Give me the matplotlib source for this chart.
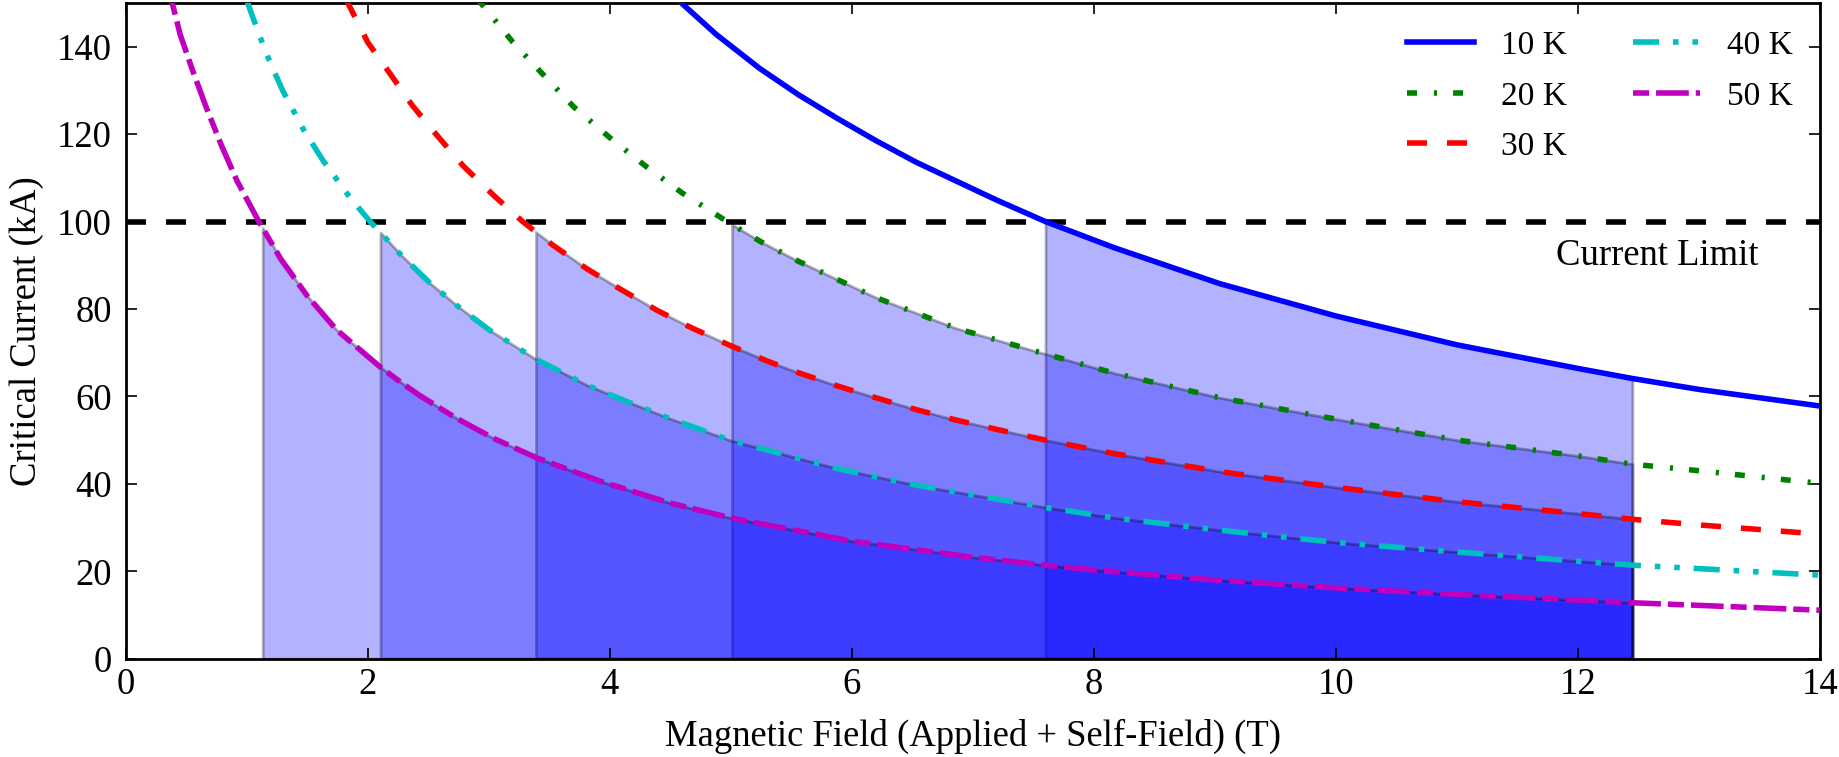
import matplotlib
matplotlib.use("Agg")
import matplotlib.pyplot as plt
import numpy as np

plt.rcParams['font.family'] = ['Liberation Serif', 'DejaVu Serif']
plt.rcParams['font.size'] = 13.2
plt.rcParams['mathtext.fontset'] = 'stix'

# ---------------- data ----------------
temps = ["10 K", "20 K", "30 K", "40 K", "50 K"]

B_10K = [4.45, 4.6, 4.88, 5.24, 5.56, 5.88, 6.2, 6.53, 7.19, 7.6, 8.17, 9.04,
         10.0, 11.0, 12.0, 12.45, 13.0, 14.0]
I_10K = [153.8, 149.8, 142.8, 135.0, 129.0, 123.6, 118.5, 113.6, 105.0, 100.0,
         94.0, 85.8, 78.4, 71.8, 66.4, 64.1, 61.6, 57.8]

B_20K = [2.85, 3.0, 3.2, 3.44, 3.7, 4.0, 4.3, 4.6, 5.01, 5.26, 5.56, 6.2, 6.86,
         7.6, 8.17, 9.04, 10.0, 11.0, 12.0, 12.45, 13.0, 14.0]
I_20K = [152.8, 147.8, 141.0, 133.9, 126.3, 119.2, 112.6, 106.5, 99.3, 95.2,
         90.9, 82.6, 75.6, 69.7, 65.3, 59.7, 54.8, 50.0, 46.4, 44.5, 43.0, 40.1]

B_30K = [1.78, 1.9, 2.0, 2.18, 2.37, 2.57, 2.79, 3.04, 3.28, 3.39, 3.53, 3.81,
         4.09, 4.39, 4.66, 4.99, 5.30, 5.55, 5.88, 6.21, 6.53, 6.86, 7.19, 7.6,
         8.17, 9.04, 10.0, 11.0, 12.0, 12.45, 13.0, 14.0]
I_30K = [153.0, 146.5, 141.0, 134.0, 126.5, 119.8, 112.7, 106.0, 100.0, 97.6,
         94.6, 89.2, 84.5, 79.7, 75.9, 71.7, 68.1, 65.5, 62.4, 59.6, 57.0, 54.6,
         52.5, 50.0, 46.9, 42.8, 39.2, 35.9, 33.2, 31.9, 30.6, 28.5]

B_40K = [1.0, 1.04, 1.165, 1.30, 1.47, 1.63, 1.85, 2.02, 2.105, 2.27, 2.515,
         2.74, 3.01, 3.39, 3.81, 4.09, 4.5, 5.0, 5.88, 6.53, 7.6, 8.17, 9.04,
         10.0, 11.0, 12.0, 12.45, 13.0, 14.0]
I_40K = [150.7, 147.5, 138.2, 129.8, 121.0, 114.0, 105.6, 100.0, 97.5, 92.5,
         85.9, 80.7, 75.1, 68.5, 62.6, 59.4, 54.9, 49.9, 43.5, 39.7, 34.6, 32.2,
         29.4, 26.6, 24.4, 22.3, 21.4, 20.6, 19.1]

B_50K = [0.36, 0.38, 0.45, 0.56, 0.67, 0.79, 0.92, 1.10, 1.132, 1.28, 1.50,
         1.74, 2.10, 2.27, 2.43, 2.72, 3.04, 3.40, 3.92, 4.5, 5.0, 6.0, 7.0,
         7.6, 8.0, 9.0, 10.0, 11.0, 12.0, 12.45, 13.0, 14.0]
I_50K = [153.0, 150.5, 142.8, 134.0, 125.8, 117.5, 109.3, 100.0, 98.5, 91.5,
         83.0, 75.3, 66.8, 63.3, 60.2, 55.2, 50.4, 45.9, 40.6, 35.6, 32.2, 26.9,
         23.2, 21.4, 20.3, 18.0, 16.2, 14.7, 13.4, 12.8, 12.2, 11.1]

# field where each shaded (operating) region starts, and common end
shade_start = [7.6, 5.01, 3.39, 2.105, 1.132]
shade_end = 12.45
current_limit = 100

xticks = [0, 2, 4, 6, 8, 10, 12, 14]
yticks = [0, 20, 40, 60, 80, 100, 120, 140]

# ---------------- styling ----------------
colors = ['b', 'g', 'r', 'c', 'm']
dashes = [None,
          (1.8, 3.05, 0.55, 2.9),
          (3.6, 3.6),
          (4.7, 2.5, 1.0, 2.5, 1.0, 2.5),
          (2.9, 1.25, 5.9, 1.25)]

curves = [(B_10K, I_10K), (B_20K, I_20K), (B_30K, I_30K),
          (B_40K, I_40K), (B_50K, I_50K)]

fig = plt.figure(figsize=(9.195, 3.785), dpi=200)
ax = fig.add_axes([0.06835, 0.12985, 0.98967 - 0.06835, 0.99604 - 0.12985])

# shaded regions
for (Bs, Is), s in zip(curves, shade_start):
    Bs = np.asarray(Bs); Is = np.asarray(Is)
    m = (Bs >= s - 1e-9) & (Bs <= shade_end + 1e-9)
    ax.fill_between(Bs[m], 0, Is[m], facecolor='b', edgecolor='k',
                    linewidth=1.0, alpha=0.3, zorder=1)

# curves
for (Bs, Is), c, d, lab in zip(curves, colors, dashes, temps):
    if d is None:
        ax.plot(Bs, Is, color=c, lw=2, label=lab, zorder=3)
    else:
        ax.plot(Bs, Is, color=c, lw=2, linestyle=(0, d), label=lab, zorder=3)

ax.axhline(current_limit, color='k', lw=2, linestyle=(0, (3.6, 3.6)), zorder=2)
ax.text(11.82, 90, 'Current Limit', ha='left', va='baseline', fontsize=13.2)

ax.set_xlim(0, 14)
ax.set_ylim(0, 150)
ax.set_xticks(xticks)
ax.set_yticks(yticks)
ax.tick_params(direction='in', top=True, right=True, length=4, width=0.6,
               labelsize=13.2)
ax.tick_params(axis='x', pad=3.3)
ax.tick_params(axis='y', pad=5)
for sp in ax.spines.values():
    sp.set_linewidth(1.0)

ax.set_xlabel('Magnetic Field (Applied + Self-Field) (T)', fontsize=13.2,
              labelpad=6)
ax.set_ylabel('Critical Current (kA)', fontsize=13.2, labelpad=4.7)

ax.legend(loc='upper right', ncol=2, frameon=False, fontsize=12,
          handlelength=2.0, handletextpad=0.8, columnspacing=2.0,
          labelspacing=0.6, borderpad=0.4, borderaxespad=0.43)

fig.savefig('out.png', dpi=200, facecolor='white')
